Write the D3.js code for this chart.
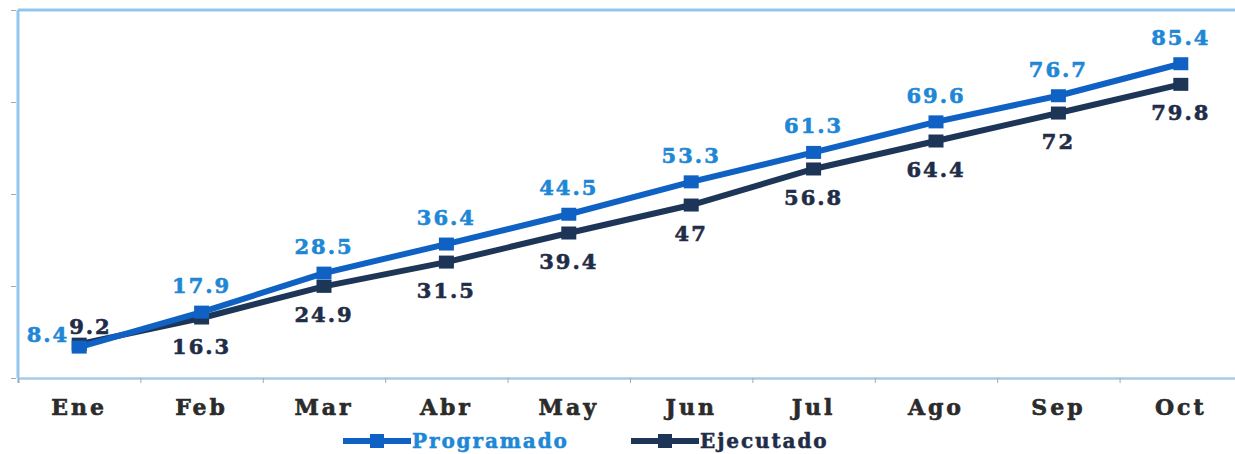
<!DOCTYPE html>
<html><head><meta charset="utf-8">
<script src="https://cdn.jsdelivr.net/npm/d3@7"></script>
<style>body{margin:0;background:#fff}svg{display:block}</style>
</head><body>
<svg id="c" width="1235" height="454"></svg>
<script>
const categories = ["Ene","Feb","Mar","Abr","May","Jun","Jul","Ago","Sep","Oct"];
const programado = [8.4,17.9,28.5,36.4,44.5,53.3,61.3,69.6,76.7,85.4];
const ejecutado  = [9.2,16.3,24.9,31.5,39.4,47,56.8,64.4,72,79.8];
const seriesNames = ["Programado","Ejecutado"];
const yTicks = [0,25,50,75,100];

const svg = d3.select("#c");
const W = 1235, H = 454;
const pLeft = 18, pTop = 10, pBottom = 378, pRight = pLeft + 10*122.4;
const font = "'DejaVu Serif', 'Liberation Serif', serif";

const x = d3.scaleBand().domain(categories).range([pLeft, pRight]);
const y = d3.scaleLinear().domain([0,100]).range([pBottom, pTop]);
const cx = d => x(d) + x.bandwidth()/2;

const cProg = "#0f62c4", cEje = "#1d3557";
const tProg = "#1e87d6", tEje = "#1f2d48";
const border = "#92c6ee";

// plot borders
svg.append("line").attr("x1", pLeft).attr("x2", W).attr("y1", pTop).attr("y2", pTop)
  .attr("stroke", border).attr("stroke-width", 3);
svg.append("line").attr("x1", pLeft).attr("x2", pLeft).attr("y1", pTop).attr("y2", pBottom)
  .attr("stroke", border).attr("stroke-width", 3);

// y ticks (outward marks only)
const yAxis = d3.axisLeft(y).tickValues(yTicks).tickSize(5).tickFormat("");
const gy = svg.append("g").attr("transform", `translate(${pLeft-2},0)`).call(yAxis);
gy.select(".domain").remove();
gy.selectAll(".tick line").attr("stroke", "#a9a9a9").attr("stroke-width", 1);

// x axis
const xb = d3.scaleLinear().domain([0, categories.length]).range([pLeft, pRight]);
const xAxis = d3.axisBottom(xb).tickValues(d3.range(0, categories.length+1)).tickSize(5).tickFormat("");
const gx = svg.append("g").attr("transform", `translate(0,${pBottom})`).call(xAxis);
gx.select(".domain").attr("stroke", "#a8cbe6").attr("stroke-width", 2.5);
gx.selectAll(".tick line").attr("stroke", "#a9a9a9");

svg.append("g").selectAll("text").data(categories).join("text")
  .attr("x", d => cx(d)).attr("y", 415)
  .attr("text-anchor", "middle")
  .attr("font-family", font).attr("font-weight", "bold")
  .attr("font-size", 22).attr("letter-spacing", 3)
  .attr("fill", "#2b2b2b").attr("stroke", "#2b2b2b").attr("stroke-width", 0.6)
  .text(d => d);

const line = d3.line().x((d,i) => cx(categories[i])).y(d => y(d));

function drawSeries(vals, color) {
  svg.append("path").datum(vals).attr("d", line)
    .attr("fill", "none").attr("stroke", color).attr("stroke-width", 6)
    .attr("stroke-linejoin", "round");
  svg.append("g").selectAll("rect").data(vals).join("rect")
    .attr("x", (d,i) => cx(categories[i]) - 7.5)
    .attr("y", d => y(d) - 6.5)
    .attr("width", 15).attr("height", 13).attr("fill", color);
}
drawSeries(ejecutado, cEje);
drawSeries(programado, cProg);

const lblStyle = sel => sel.attr("font-family", font).attr("font-weight", "bold")
  .attr("font-size", 21).attr("letter-spacing", 2).attr("stroke-width", 0.6);

svg.append("g").selectAll("text").data(programado).join("text")
  .attr("x", (d,i) => i === 0 ? cx(categories[i]) - 10 : cx(categories[i]))
  .attr("y", (d,i) => i === 0 ? y(d) - 5 : y(d) - 19)
  .attr("text-anchor", (d,i) => i === 0 ? "end" : "middle")
  .attr("fill", tProg).attr("stroke", tProg).call(lblStyle).text(d => d);

svg.append("g").selectAll("text").data(ejecutado).join("text")
  .attr("x", (d,i) => i === 0 ? cx(categories[i]) - 10 : cx(categories[i]))
  .attr("y", (d,i) => i === 0 ? y(d) - 10 : y(d) + 36)
  .attr("text-anchor", (d,i) => i === 0 ? "start" : "middle")
  .attr("fill", tEje).attr("stroke", tEje).call(lblStyle).text(d => d);

// legend
const legend = [
  {name: seriesNames[0], color: cProg, tcolor: tProg, x0: 343},
  {name: seriesNames[1], color: cEje, tcolor: tEje, x0: 631}
];
const lg = svg.append("g");
legend.forEach(l => {
  lg.append("line").attr("x1", l.x0).attr("x2", l.x0 + 68).attr("y1", 441).attr("y2", 441)
    .attr("stroke", l.color).attr("stroke-width", 6);
  lg.append("rect").attr("x", l.x0 + 27).attr("y", 434).attr("width", 14).attr("height", 14).attr("fill", l.color);
  lg.append("text").attr("x", l.x0 + 69).attr("y", 448)
    .attr("font-family", font).attr("font-weight", "bold").attr("font-size", 20)
    .attr("letter-spacing", 1.9).attr("fill", l.tcolor)
    .attr("stroke", l.tcolor).attr("stroke-width", 0.5).text(l.name);
});
</script>
</body></html>
